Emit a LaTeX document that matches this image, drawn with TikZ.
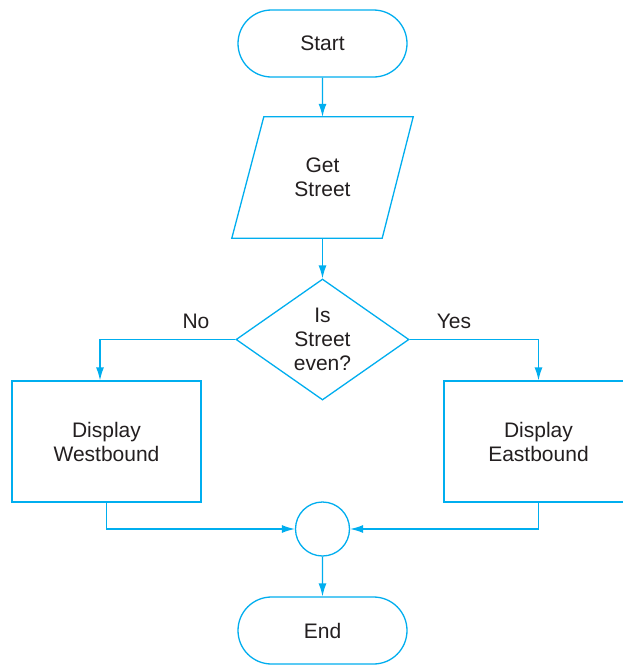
\documentclass[tikz,border=0pt]{standalone}
\usepackage{fontspec}
\setmainfont{Liberation Sans}
\usetikzlibrary{shapes.geometric,shapes.misc,arrows.meta,calc}
\definecolor{flow}{RGB}{0,174,239}
\definecolor{ink}{RGB}{35,31,32}
\begin{document}
\begin{tikzpicture}[x=1pt,y=-1pt,
  every node/.style={text=ink,font=\fontsize{21}{24}\selectfont,align=center,inner sep=0pt},
  line/.style={draw=flow,line width=1.3pt},
  arr/.style={line,-{Latex[length=13pt,width=8pt]}},
  term/.style={rounded rectangle,line,minimum width=169pt,minimum height=67pt},
  procbox/.style={rectangle,line,minimum width=189pt,minimum height=121pt},
  decision/.style={diamond,line,aspect=1.43,minimum width=173pt,minimum height=121pt},
  joint/.style={circle,line,minimum size=54pt}]
\clip (0,0) rectangle (623,665);
\fill[white] (0,0) rectangle (623,665);
\node[term] (start) at (322.5,43.5) {Start};
\node[minimum width=181pt,minimum height=121pt] (get) at (322.5,177.5) {Get\\Street};
\draw[line] ($(get.north west)+(32,0)$) -- (get.north east) -- ($(get.south east)+(-31,0)$) -- (get.south west) -- cycle;
\node[decision] (dec) at (322.5,339.5) {Is\\Street\\even?};
\node[procbox] (west) at (106.5,441.5) {Display\\Westbound};
\node[procbox] (east) at (538.5,441.5) {Display\\Eastbound};
\node[joint] (merge) at (322.5,529) {};
\node[term] (end) at (322.5,630.5) {End};
\node (no) at (196,321) {No};
\node (yes) at (454,321) {Yes};
\draw[arr] (start) -- (get);
\draw[arr] (get) -- (dec);
\draw[arr] (dec.west) -| ([xshift=-6.5pt]west.north);
\draw[arr] (dec.east) -| (east.north);
\draw[arr] (west.south) |- (merge.west);
\draw[arr] (east.south) |- (merge.east);
\draw[arr] (merge) -- (end);
\end{tikzpicture}
\end{document}
